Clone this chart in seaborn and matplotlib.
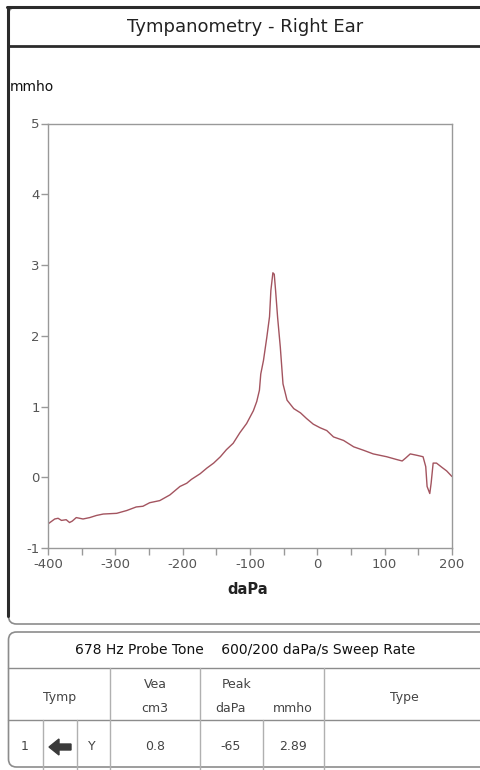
import numpy as np
import pandas as pd
import matplotlib
matplotlib.use("Agg")
import matplotlib.pyplot as plt
import seaborn as sns
from matplotlib.patches import FancyBboxPatch, Polygon

# curve (daPa vs mmho)
pressure = [-400, -390, -385, -380, -373, -368, -364, -358, -353, -348, -338, -328,
            -318, -298, -283, -269, -259, -249, -234, -219, -204, -194, -187, -174,
            -164, -154, -144, -135, -125, -115, -105, -95, -90, -86, -84, -80, -75,
            -71, -69, -66, -64, -62, -59, -55, -51, -45, -35, -25, -16, -6, 4, 14,
            24, 39, 54, 69, 83, 103, 118, 126, 131, 138, 148, 157, 161, 163, 167,
            169, 172, 177, 185, 192, 200]
admittance = [-0.66, -0.59, -0.58, -0.61, -0.60, -0.64, -0.62, -0.57, -0.58, -0.59,
              -0.57, -0.54, -0.52, -0.51, -0.47, -0.42, -0.41, -0.36, -0.33, -0.25,
              -0.13, -0.085, -0.03, 0.05, 0.13, 0.20, 0.29, 0.39, 0.48, 0.63, 0.76,
              0.94, 1.07, 1.23, 1.46, 1.65, 1.98, 2.27, 2.64, 2.89, 2.87, 2.64, 2.26,
              1.84, 1.32, 1.09, 0.97, 0.91, 0.83, 0.75, 0.70, 0.66, 0.57, 0.52, 0.43,
              0.38, 0.33, 0.29, 0.25, 0.23, 0.27, 0.33, 0.31, 0.29, 0.15, -0.13, -0.23,
              -0.085, 0.20, 0.20, 0.14, 0.09, 0.01]

title = "Tympanometry - Right Ear"
info_line = "678 Hz Probe Tone    600/200 daPa/s Sweep Rate"
vea_cm3 = "0.8"
peak_dapa = "-65"
peak_mmho = "2.89"

df = pd.DataFrame({"daPa": pressure, "mmho": admittance})

sns.set_style("white")
plt.rcParams["font.family"] = ["DejaVu Sans"]
plt.rcParams["axes.unicode_minus"] = False

W, H = 481, 770
fig = plt.figure(figsize=(W / 100, H / 100), dpi=100)

# overlay for frame and table, pixel coords
bg = fig.add_axes([0, 0, 1, 1])
bg.set_xlim(0, W)
bg.set_ylim(H, 0)
bg.axis("off")

dark = "#2b2b2b"
grid = "#8c8c8c"

# top panel frame
bg.add_patch(FancyBboxPatch((8.5, 7), 520, 617, boxstyle="round,pad=0,rounding_size=8",
                            fill=False, ec=grid, lw=1.2))
bg.plot([8.5, 8.5], [7, 616], color=dark, lw=2.2)
bg.plot([7.4, W], [7, 7], color=dark, lw=2.2)
bg.plot([8, W], [46, 46], color=dark, lw=2.0)
bg.text(245, 27, title, ha="center", va="center", fontsize=13, color="#222222")

# bottom panel frame
bg.add_patch(FancyBboxPatch((8.5, 632), 520, 135, boxstyle="round,pad=0,rounding_size=8",
                            fill=False, ec=grid, lw=1.2))
bg.text(245, 650, info_line, ha="center", va="center", fontsize=10, color="#111111")
bg.plot([8.5, W], [668, 668], color=grid, lw=1)
bg.plot([8.5, W], [720, 720], color=grid, lw=1)
for xv in [110, 200, 324]:
    bg.plot([xv, xv], [668, 770], color="#b0b0b0", lw=1)
for xv in [43, 77, 263]:
    bg.plot([xv, xv], [720, 770], color="#b0b0b0", lw=1)

hc = "#444444"
fs = 9
bg.text(60, 697, "Tymp", ha="center", va="center", fontsize=fs, color=hc)
bg.text(155, 684, "Vea", ha="center", va="center", fontsize=fs, color=hc)
bg.text(155, 708, "cm3", ha="center", va="center", fontsize=fs, color=hc)
bg.text(237, 684, "Peak", ha="center", va="center", fontsize=fs, color=hc)
bg.text(231, 708, "daPa", ha="center", va="center", fontsize=fs, color=hc)
bg.text(293, 708, "mmho", ha="center", va="center", fontsize=fs, color=hc)
bg.text(404, 697, "Type", ha="center", va="center", fontsize=fs, color=hc)

bg.text(25, 747, "1", ha="center", va="center", fontsize=fs, color=hc)
bg.add_patch(Polygon([[49, 747], [59, 739], [59, 744], [71, 744], [71, 750], [59, 750], [59, 755]],
                     closed=True, color="#3a3a3a"))
bg.text(92, 747, "Y", ha="center", va="center", fontsize=fs, color=hc)
bg.text(155, 747, vea_cm3, ha="center", va="center", fontsize=fs, color=hc)
bg.text(231, 747, peak_dapa, ha="center", va="center", fontsize=fs, color=hc)
bg.text(293, 747, peak_mmho, ha="center", va="center", fontsize=fs, color=hc)

# tympanogram
ax = fig.add_axes([48 / W, 1 - 548 / H, 404 / W, (548 - 123.5) / H])
sns.lineplot(data=df, x="daPa", y="mmho", ax=ax, color="#a3545f", lw=1.0, sort=False)
ax.set_xlim(-400, 200)
ax.set_ylim(-1, 5)
ax.set_xticks(np.arange(-400, 201, 50))
ax.set_xticklabels([str(v) if v % 100 == 0 else "" for v in range(-400, 201, 50)])
ax.set_yticks(range(-1, 6))
for s in ax.spines.values():
    s.set_color("#999999")
    s.set_linewidth(1)
ax.tick_params(axis="both", colors="#999999", labelcolor="#555555", labelsize=9.5,
               length=5, width=1, direction="out", left=True, bottom=True)
ax.tick_params(axis="x", pad=2)
ax.tick_params(axis="y", pad=1)
ax.set_xlabel("")
ax.set_ylabel("")

fig.text(10 / W, 1 - 87 / H, "mmho", ha="left", va="center", fontsize=10, color="#111111")
fig.text(248 / W, 1 - 590 / H, "daPa", ha="center", va="center", fontsize=10.5,
         fontweight="bold", color="#222222")

fig.savefig("out.png", dpi=100)
